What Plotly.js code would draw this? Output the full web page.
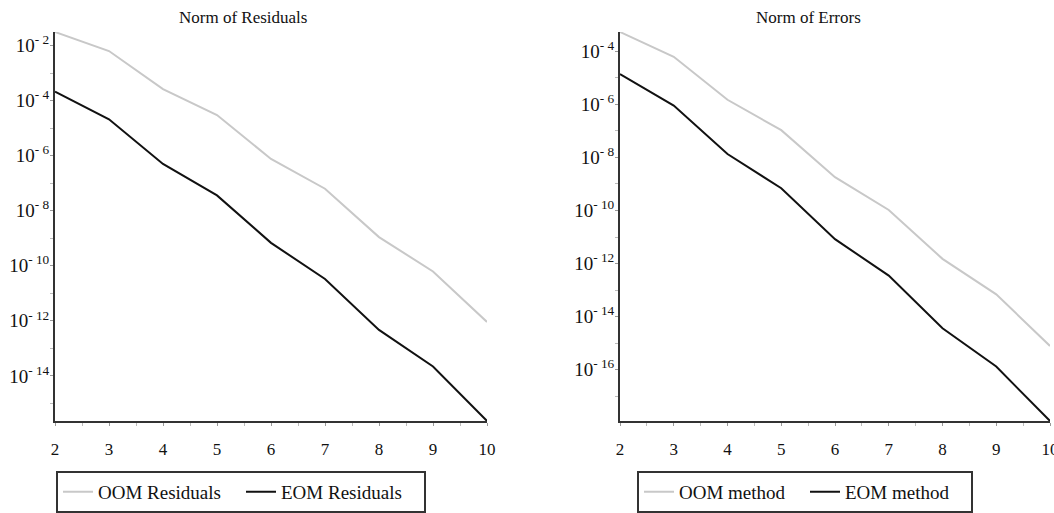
<!DOCTYPE html>
<html>
<head>
<meta charset="utf-8">
<script src="https://cdn.plot.ly/plotly-3.0.1.min.js"></script>
<style>html,body{margin:0;padding:0;background:#fff;}#chart{width:1054px;height:513px;}</style>
</head>
<body>
<div id="chart"></div>
<script>
// ---- data ----
const n = [2, 3, 4, 5, 6, 7, 8, 9, 10];
const oomResiduals = [3.1e-2, 6.3e-3, 2.6e-4, 3.0e-5, 7.6e-7, 6.3e-8, 1.1e-9, 6.2e-11, 9.1e-13];
const eomResiduals = [2.1e-4, 2.1e-5, 5.0e-7, 3.6e-8, 6.8e-10, 3.3e-11, 4.7e-13, 2.2e-14, 2.3e-16];
const oomErrors = [5.4e-4, 6.3e-5, 1.5e-6, 1.07e-7, 1.8e-9, 1.05e-10, 1.5e-12, 6.9e-14, 7.8e-16];
const eomErrors = [1.4e-5, 9.1e-7, 1.35e-8, 6.9e-10, 8.3e-12, 3.5e-13, 3.6e-15, 1.3e-16, 1.15e-18];
const leftExps = [-2, -4, -6, -8, -10, -12, -14];
const leftMinorExps = [-3, -5, -7, -9, -11, -13, -15];
const rightExps = [-4, -6, -8, -10, -12, -14, -16];
const rightMinorExps = [-5, -7, -9, -11, -13, -15, -17];
const xTicks = [2, 3, 4, 5, 6, 7, 8, 9, 10];
const xMinorTicks = [2.5, 3.5, 4.5, 5.5, 6.5, 7.5, 8.5, 9.5];
const titles = ["Norm of Residuals", "Norm of Errors"];
const names = [["OOM Residuals", "EOM Residuals"], ["OOM method", "EOM method"]];

const FONT = "Liberation Serif, Times New Roman, serif";
const GRAY = "#c8c8c8", BLACK = "#111111";
const W = 1054;

function logRange(a, b) {
  const all = a.concat(b);
  return [Math.log10(Math.min(...all)), Math.log10(Math.max(...all))];
}
function yAxis(exps, minor, range) {
  return {
    type: "log", range: range,
    tickmode: "array",
    tickvals: exps.map(e => Math.pow(10, e)),
    ticktext: exps.map(e => "10<sup>- " + Math.abs(e) + "</sup>"),
    ticks: "outside", ticklen: 3, tickwidth: 1, tickcolor: "#999",
    minor: {tickvals: minor.map(e => Math.pow(10, e)), ticks: "outside", ticklen: 3, tickcolor: "#bbb", showgrid: false},
    showline: true, linecolor: "#333", linewidth: 2,
    showgrid: false, zeroline: false,
    tickfont: {family: FONT, size: 19, color: "#111"},
    ticklabelstandoff: -3
  };
}
function xAxis(domain, anchor) {
  return {
    domain: domain, range: [2, 10], anchor: anchor,
    tickmode: "array", tickvals: xTicks, ticktext: xTicks.map(String),
    ticks: "outside", ticklen: 3, tickwidth: 1, tickcolor: "#999",
    minor: {tickvals: xMinorTicks, ticks: "outside", ticklen: 3, tickcolor: "#bbb", showgrid: false},
    showline: true, linecolor: "#333", linewidth: 2,
    showgrid: false, zeroline: false,
    tickfont: {family: FONT, size: 17, color: "#111"},
    ticklabeloverflow: "allow",
    ticklabelstandoff: 9
  };
}

const traces = [
  {x: n, y: oomResiduals, name: names[0][0], mode: "lines", line: {color: GRAY, width: 2}, xaxis: "x", yaxis: "y", legend: "legend"},
  {x: n, y: eomResiduals, name: names[0][1], mode: "lines", line: {color: BLACK, width: 2}, xaxis: "x", yaxis: "y", legend: "legend"},
  {x: n, y: oomErrors, name: names[1][0], mode: "lines", line: {color: GRAY, width: 2}, xaxis: "x2", yaxis: "y2", legend: "legend2"},
  {x: n, y: eomErrors, name: names[1][1], mode: "lines", line: {color: BLACK, width: 2}, xaxis: "x2", yaxis: "y2", legend: "legend2"}
];

const legendBase = {
  orientation: "h", yanchor: "top", xanchor: "left", y: -0.128,
  bordercolor: "#333", borderwidth: 2, bgcolor: "#fff",
  font: {family: FONT, size: 19, color: "#111"},
  tracegroupgap: 0, itemclick: false
};

const layout = {
  width: 1054, height: 513,
  margin: {l: 0, r: 0, t: 32, b: 80},
  paper_bgcolor: "#fff", plot_bgcolor: "#fff",
  showlegend: true,
  xaxis: xAxis([55 / W, 487 / W], "y"),
  yaxis: Object.assign(yAxis(leftExps, leftMinorExps, logRange(oomResiduals, eomResiduals)), {anchor: "x"}),
  xaxis2: xAxis([620 / W, 1050 / W], "y2"),
  yaxis2: Object.assign(yAxis(rightExps, rightMinorExps, logRange(oomErrors, eomErrors)), {anchor: "x2"}),
  legend: Object.assign({}, legendBase, {x: 56 / W, entrywidth: 138}),
  legend2: Object.assign({}, legendBase, {x: 637 / W, entrywidth: 121}),
  annotations: [
    {text: titles[0], xref: "paper", yref: "paper", x: 243 / W, y: 1.0, yshift: 3, yanchor: "bottom", xanchor: "center", showarrow: false, font: {family: FONT, size: 17, color: "#111"}},
    {text: titles[1], xref: "paper", yref: "paper", x: 808 / W, y: 1.0, yshift: 3, yanchor: "bottom", xanchor: "center", showarrow: false, font: {family: FONT, size: 17, color: "#111"}}
  ]
};

Plotly.newPlot("chart", traces, layout, {displayModeBar: false, staticPlot: true});
</script>
</body>
</html>
